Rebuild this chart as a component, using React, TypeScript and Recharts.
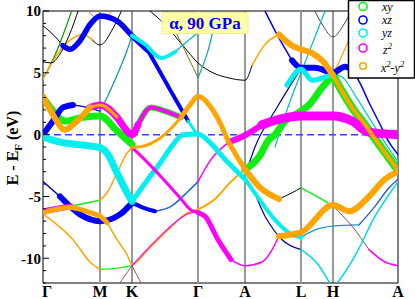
import React from "react";
import { LineChart, Line, XAxis, YAxis, ReferenceLine, ReferenceArea } from "recharts";

type P = [number, number];

// ---- axes ----
const kPoints = [0, 57, 89, 155, 202, 258, 290, 355];
const kLabels = ["Γ", "M", "K", "Γ", "A", "L", "H", "A"];
const eTicks = [-12, -11, -10, -9, -8, -7, -6, -5, -4, -3, -2, -1, 0, 1, 2, 3, 4, 5, 6, 7, 8, 9, 10];
const eMajor = [-10, -5, 0, 5, 10];
const eDomain: [number, number] = [-12, 10];
const fermiLevel = 0;

// ---- bands: [k, E] ----
const bandXzTop: P[] = [[0, 8.8], [10, 8.1], [20, 7.2], [27, 6.9], [37, 7.6], [47, 8.9], [57, 9.6], [74, 9.2], [89, 8.0], [105, 6.8], [128, 3.5], [145, 1.1], [155, -0.1]];
const bandXzMid: P[] = [[0, 0], [10, 1.1], [20, 2.2], [30, 2.4], [44, 2.2], [57, 1.9], [64, 3.0], [74, 4.8], [84, 6.8], [89, 8.0]];
const bandCyanLow: P[] = [[0, -0.2], [17, -0.6], [40, -0.85], [57, -1.05], [64, -1.5], [74, -3.1], [84, -4.7], [89, -5.4], [105, -3.6], [118, -2.2], [130, -0.8], [140, 0.0], [155, 0.05], [167, -0.65], [182, -2.0], [202, -3.6], [216, -5.2], [232, -6.9], [249, -8.1], [258, -8.3], [272, -7.7], [290, -7.4], [316, -7.3], [332, -5.8], [346, -4.3], [355, -3.6]];
const bandXzLow: P[] = [[0, -3.8], [17, -5.0], [37, -6.45], [57, -7.0], [77, -6.45], [89, -5.5], [100, -5.9], [112, -6.2], [128, -5.8], [145, -4.6], [155, -3.8], [168, -2.0], [186, -0.6], [202, -0.05], [219, 0.8], [242, 1.35], [258, 1.5], [290, 1.5], [309, 1.1], [326, 0.2], [355, 0]];
const bandZ2Low: P[] = [[0, -6.2], [27, -5.8], [57, -5.3], [64, -4.7], [74, -3.1], [84, -1.5], [89, -1.05], [95, -1.5], [118, -3.4], [138, -5.2], [148, -6.1], [155, -6.3], [162, -6.6], [175, -8.5], [188, -10.1], [202, -10.6], [219, -10.3], [236, -8.2], [258, -7.9], [290, -5.7], [306, -6.2], [326, -5.0], [342, -3.6], [355, -3.0]];
const bandX2Low: P[] = [[0, -6.3], [27, -5.9], [47, -6.3], [57, -6.6], [64, -7.1], [74, -8.5], [84, -9.7], [89, -10.5], [105, -9.3], [125, -7.7], [145, -6.3], [155, -6.05], [172, -5.2], [188, -3.8], [202, -2.8], [216, -4.2], [236, -5.2], [249, -4.7], [258, -4.3], [276, -5.1], [290, -5.8], [309, -7.4], [326, -9.3], [342, -10.3], [355, -10.6]];
const bandX2Bot: P[] = [[0, -6.4], [5, -6.7], [30, -8.5], [47, -10.3], [57, -10.9], [75, -10.8], [89, -10.6], [100, -12.3]];
const bandRedX: P[] = [[74, -12.3], [89, -10.6], [105, -9.2], [125, -7.6], [145, -6.4], [155, -6.2]];
const bandMixMid: P[] = [[0, 3.1], [10, 1.6], [22, 0.4], [34, 1.1], [47, 2.2], [57, 2.4], [74, 1.4], [84, 0.3], [89, 0], [95, 0.8], [108, 2.2], [122, 1.9], [138, 1.4], [147, 2.4], [155, 3.1], [168, 2.2], [178, 0.8], [185, -0.5], [192, -1.5], [202, -2.8]];
const bandXyMid: P[] = [[0, 3.0], [10, 1.9], [22, 1.1], [40, 1.4], [57, 1.5], [74, 0.3], [89, -0.8]];
const bandOrangeK: P[] = [[89, -1.05], [102, -0.9], [115, -0.4], [128, 0.5], [138, 1.4]];
const bandGreenA: P[] = [[202, -2.8], [206, -2.6], [216, -1.8], [226, -0.4], [232, 0.0], [242, 1.1], [256, 1.8], [266, 2.4], [279, 3.8], [290, 4.8], [300, 6.6], [310, 8.4], [320, 10.3]];
const bandX2Up: P[] = [[104, 10.2], [122, 8.9], [140, 7.2], [155, 5.8], [170, 5.0], [185, 4.6], [202, 4.4], [209, 5.6], [222, 7.3], [236, 8.1], [249, 7.2], [258, 6.9], [269, 6.6], [279, 6.0], [290, 4.8], [299, 3.5], [309, 2.2], [322, 0.8], [336, -0.8], [346, -1.9], [355, -2.9]];
const bandCyanV: P[] = [[122, 10.5], [130, 8.8], [142, 6.8], [155, 4.6], [165, 6.8], [175, 10.2]];
const bandYzUp: P[] = [[89, 8.0], [102, 7.3], [118, 6.2], [132, 6.7], [145, 7.6], [155, 8.3], [165, 9.4], [172, 10.3]];
const bandGreenSteep: P[] = [[0, 4.5], [14, 6.8], [29, 10.1]];
const bandX2UpGM: P[] = [[0, 4.5], [17, 6.8], [30, 7.8], [40, 8.1], [50, 7.6], [57, 7.25], [70, 8.6], [79, 10.1]];
const bandBlackGM: P[] = [[0, 5.9], [8, 5.8], [16, 6.4], [26, 8.0], [36, 10.2]];
const bandOrangeTopM: P[] = [[42, 10.3], [50, 9.6], [57, 9.4], [64, 9.6], [72, 10.3]];
const bandPurpleH: P[] = [[270, 10.3], [280, 8.8], [290, 7.9], [300, 8.8], [310, 10.3]];
const bandXzUp2: P[] = [[222, 10], [236, 7.8], [249, 6.0], [258, 5.4], [272, 5.4], [290, 5.0], [302, 5.5], [310, 5.2], [318, 4.0], [326, 2.6], [336, 1.0], [346, -0.6], [355, -1.6]];
const bandYzUp2: P[] = [[244, 4.0], [248, 4.5], [258, 5.3], [269, 4.4], [280, 4.6], [290, 4.9], [300, 4.6], [312, 3.2], [325, 1.5], [340, -0.4], [355, -2.2]];
const bandCyanSteep: P[] = [[232, -1.0], [244, 2.0], [257, 4.8], [270, 7.5], [282, 10]];
const bandBlueSteep: P[] = [[205, -2.6], [212, -1.0], [234, 2.2], [256, 5.1]];
const bandBlueA: P[] = [[202, -3.6], [206, -3.9], [222, -6.6], [239, -8.5], [258, -9.3], [276, -10.6], [286, -11.9], [290, -12.4], [295, -11.9], [312, -9.8], [332, -6.6], [355, -3.8]];

const bands: Record<string, P[]> = {
  xzTop: bandXzTop, xzMid: bandXzMid, cyanLow: bandCyanLow, xzLow: bandXzLow, z2Low: bandZ2Low,
  x2Low: bandX2Low, x2Bot: bandX2Bot, redX: bandRedX, mixMid: bandMixMid, xyMid: bandXyMid,
  orangeK: bandOrangeK, greenA: bandGreenA, x2Up: bandX2Up, cyanV: bandCyanV, yzUp: bandYzUp,
  greenSteep: bandGreenSteep, x2UpGM: bandX2UpGM, blackGM: bandBlackGM, orangeTopM: bandOrangeTopM,
  purpleH: bandPurpleH, xzUp2: bandXzUp2, yzUp2: bandYzUp2, cyanSteep: bandCyanSteep,
  blueSteep: bandBlueSteep, blueA: bandBlueA,
};

// ---- styles ----
const G = "#11ee11";
const B = "#0000ff";
const C = "#00f0f0";
const M = "#ff00ff";
const O = "#ffa500";
const K = "#000000";
const ALL: [number, number] = [-1, 999];

type Seg = [string, number, number, string, number];
const segments: Seg[] = [
  // thin
  ["xzTop", 0, 20, K, 1],
  ["xzMid", 30, 57, "#0000aa", 1.2], ["xzMid", 57, 89, "#009999", 1.2],
  ["cyanLow", 258, 316, "#1199cc", 1.3], ["cyanLow", 316, 355, "#2255dd", 1.3],
  ["xzLow", 0, 17, "#0000cc", 1.5], ["xzLow", 112, 155, "#2266dd", 1.5], ["xzLow", 155, 186, M, 1.5],
  ["z2Low", 27, 57, G, 1.5], ["z2Low", 57, 89, O, 1.5], ["z2Low", 188, 236, M, 1.5],
  ["x2Low", 64, 155, O, 1.5], ["x2Low", 155, 202, O, 2], ["x2Low", 236, 258, K, 1], ["x2Low", 258, 290, G, 1.5],
  ["x2Low", 290, 326, "#884466", 1], ["x2Low", 326, 355, M, 1.5],
  ["x2Bot", 0, 57, O, 1.5], ["x2Bot", 57, 89, G, 1.2], ["x2Bot", 89, 100, "#aa5555", 1],
  ["redX", 74, 89, "#aa5555", 1], ["redX", 89, 155, M, 1.2],
  ["greenA", 290, 320, O, 1.2],
  ["x2Up", 104, 209, K, 1], ["x2Up", 209, 236, O, 1.5],
  ["cyanV", 122, 155, "#777700", 1], ["cyanV", 155, 175, "#00aaaa", 1.2],
  ["yzUp", 132, 172, "#00bbbb", 1.2],
  ["greenSteep", ALL[0], ALL[1], "#009900", 1.2],
  ["x2UpGM", 0, 50, O, 1.5], ["x2UpGM", 50, 79, K, 1],
  ["blackGM", ALL[0], ALL[1], K, 1],
  ["orangeTopM", ALL[0], ALL[1], "#cc7722", 1],
  ["purpleH", ALL[0], ALL[1], "#663366", 1],
  ["xzUp2", 222, 249, B, 1.5], ["xzUp2", 310, 355, B, 1.5],
  ["yzUp2", 290, 355, "#00cccc", 1.2],
  ["cyanSteep", ALL[0], ALL[1], "#00bbbb", 1.2],
  ["blueSteep", ALL[0], ALL[1], "#000099", 1.2],
  ["blueA", 202, 258, "#000099", 1.2], ["blueA", 258, 355, "#00dddd", 1.5],
  // green fat
  ["xyMid", 0, 89, G, 7], ["mixMid", 95, 138, G, 6], ["greenA", 202, 290, G, 7], ["x2Up", 290, 355, G, 8],
  // blue fat
  ["xzTop", 20, 105, B, 5.5], ["xzTop", 105, 145, B, 4], ["xzMid", 0, 30, B, 6],
  ["xzLow", 17, 89, B, 6], ["xzLow", 89, 112, B, 4], ["xzUp2", 249, 310, B, 6],
  // cyan fat
  ["cyanLow", 0, 89, C, 7], ["cyanLow", 89, 202, C, 5], ["cyanLow", 202, 258, C, 4],
  ["xzTop", 145, 155, C, 3], ["yzUp", 89, 132, C, 4], ["yzUp2", 244, 290, C, 5],
  // magenta fat
  ["xzLow", 186, 219, M, 6], ["xzLow", 219, 355, M, 9],
  ["z2Low", 0, 27, M, 6], ["z2Low", 89, 155, M, 3], ["z2Low", 155, 188, M, 5],
  ["mixMid", 47, 95, M, 7], ["mixMid", 95, 138, M, 4],
  // orange fat
  ["z2Low", 236, 355, O, 6], ["x2Low", 0, 64, O, 5], ["x2Low", 202, 236, O, 6],
  ["mixMid", 0, 47, O, 6], ["mixMid", 47, 74, O, 3], ["mixMid", 138, 202, O, 5],
  ["x2Up", 236, 290, O, 6], ["x2Up", 290, 355, O, 4],
  ["orangeK", ALL[0], ALL[1], O, 3],
];

const symLineStyles: Record<number, [string, number]> = {
  1: ["#999999", 2], 2: ["#333333", 1], 3: ["#999999", 2], 4: ["#333333", 1], 5: ["#999999", 2], 6: ["#333333", 1],
};

const SERIF = "'Liberation Serif', 'Times New Roman', serif";

function slice(name: string, from: number, to: number) {
  return bands[name].filter(([k]) => k >= from && k <= to).map(([k, e]) => ({ k, e }));
}

const XTick = (props: any) => {
  const { x, y, payload } = props;
  const i = kPoints.indexOf(payload.value);
  const first = i === 0;
  return (
    <text x={first ? x - 1 : x} y={y + 14} textAnchor={first ? "start" : "middle"} fontFamily={SERIF} fontWeight="bold" fontSize={16} fill="#000">
      {kLabels[i]}
    </text>
  );
};

const LeftTick = (props: any) => {
  const { x, y, payload } = props;
  const v = payload.value;
  const major = eMajor.includes(v);
  return (
    <g>
      <line x1={x} x2={x + (major ? 6 : 3)} y1={y} y2={y} stroke="#000" strokeWidth={1} />
      {major && (
        <text x={x - 2} y={y} dy="0.36em" textAnchor="end" fontFamily={SERIF} fontWeight="bold" fontSize={15} fill="#000">
          {v}
        </text>
      )}
    </g>
  );
};

const RightTick = (props: any) => {
  const { x, y, payload } = props;
  const major = eMajor.includes(payload.value);
  return <line x1={x - (major ? 6 : 4)} x2={x} y1={y} y2={y} stroke="#000" strokeWidth={1} />;
};

export default function App() {
  return (
    <div style={{ position: "absolute", left: 0, top: 0, width: 415, height: 299 }}>
      <LineChart width={415} height={299} margin={{ top: 11, right: 17, bottom: 0, left: 8 }}>
        <XAxis type="number" dataKey="k" domain={[kPoints[0], kPoints[kPoints.length - 1]]} ticks={kPoints} interval={0}
          allowDataOverflow tickLine={false} axisLine={false} tickSize={0} tickMargin={0} height={16} tick={<XTick />} />
        <YAxis type="number" domain={eDomain} ticks={eTicks} interval={0} allowDataOverflow width={35}
          tickLine={false} axisLine={false} tickSize={0} tickMargin={0} tick={<LeftTick />} />
        <YAxis yAxisId="r" orientation="right" type="number" domain={eDomain} ticks={eTicks} interval={0} allowDataOverflow width={0}
          tickLine={false} axisLine={false} tickSize={0} tickMargin={0} tick={<RightTick />} />
        {kPoints.map((k, i) =>
          symLineStyles[i] ? (
            <ReferenceLine key={"v" + i} x={k} stroke={symLineStyles[i][0]} strokeWidth={symLineStyles[i][1]} />
          ) : null
        )}
        <ReferenceLine y={fermiLevel} stroke="#3d3dff" strokeWidth={1.5} strokeDasharray="7 4" />
        {segments.map(([name, f, t, color, w], i) => (
          <Line key={"s" + i} data={slice(name, f, t)} dataKey="e" type="monotone" stroke={color} strokeWidth={w}
            strokeLinecap="round" strokeLinejoin="round" dot={false} activeDot={false} isAnimationActive={false} />
        ))}
        <ReferenceArea x1={kPoints[0]} x2={kPoints[kPoints.length - 1]} y1={eDomain[0]} y2={eDomain[1]} fill="none" fillOpacity={0} stroke="#000" strokeWidth={1} ifOverflow="visible" />
      </LineChart>
      <svg width={415} height={299} style={{ position: "absolute", left: 0, top: 0, pointerEvents: "none" }}>
        <text transform="translate(18,148) rotate(-90)" textAnchor="middle" fontFamily={SERIF} fontWeight="bold" fontSize={16} fill="#000">
          E - E<tspan dy={4} fontSize={11}>F</tspan><tspan dy={-4}> (eV)</tspan>
        </text>
        <rect x={162} y={12.5} width={86} height={21} fill="#ffffa8" stroke="#eeee99" strokeWidth={1} />
        <text x={205} y={28.5} textAnchor="middle" fontFamily={SERIF} fontWeight="bold" fontSize={17} fill="#0000ee">α, 90 GPa</text>
        <rect x={348.5} y={0.5} width={66} height={77.5} fill="#fff" stroke="#000" strokeWidth={1.5} />
        <circle cx={363} cy={6.5} r={4} fill="none" stroke={G} strokeWidth={1.6} />
        <circle cx={363} cy={20} r={4} fill="none" stroke={B} strokeWidth={1.6} />
        <circle cx={363} cy={33} r={4} fill="none" stroke={C} strokeWidth={1.6} />
        <circle cx={363} cy={48} r={4} fill="none" stroke={M} strokeWidth={1.6} />
        <circle cx={363} cy={66} r={3.3} fill="none" stroke={O} strokeWidth={1.6} />
        <g fontFamily={SERIF} fontStyle="italic" fontSize={12} fill="#000">
          <text x={382} y={10.5}>xy</text>
          <text x={382} y={23.9}>xz</text>
          <text x={382} y={37.3}>yz</text>
          <text x={383} y={54}>z<tspan dy={-5} fontSize={8.5}>2</tspan></text>
          <text x={381} y={72}>x<tspan dy={-5} fontSize={8.5}>2</tspan><tspan dy={5}>-y</tspan><tspan dy={-5} fontSize={8.5}>2</tspan></text>
        </g>
      </svg>
    </div>
  );
}
